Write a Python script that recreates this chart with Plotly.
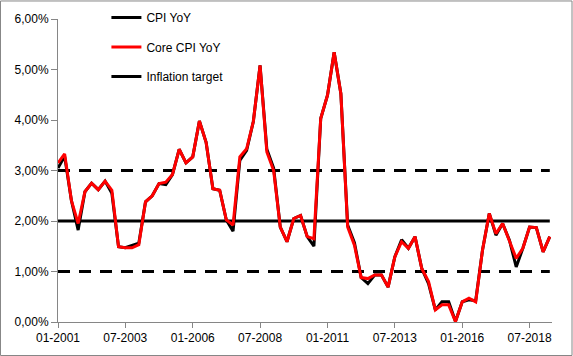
import pandas as pd
import plotly.graph_objects as go

# Quarterly observations, first quarter 2001 to second quarter 2019
start_date = "2001-01-01"
n_quarters = 74
dates = pd.date_range(start_date, periods=n_quarters, freq="QS")

cpi_yoy = [3.05, 3.28, 2.41, 1.82, 2.58, 2.75, 2.62, 2.79, 2.55, 1.49,
           1.47, 1.52, 1.56, 2.38, 2.50, 2.74, 2.72, 2.92, 3.42, 3.15,
           3.27, 3.98, 3.56, 2.64, 2.61, 2.02, 1.80, 3.20, 3.40, 3.97,
           5.08, 3.42, 3.05, 1.88, 1.59, 2.05, 2.11, 1.69, 1.50, 4.03,
           4.49, 5.34, 4.52, 1.92, 1.57, 0.88, 0.76, 0.93, 0.93, 0.69,
           1.29, 1.63, 1.46, 1.69, 1.06, 0.76, 0.24, 0.40, 0.40, 0.01,
           0.40, 0.44, 0.42, 1.42, 2.15, 1.72, 1.95, 1.62, 1.09, 1.46,
           1.88, 1.87, 1.39, 1.69]

core_cpi_yoy = [3.15, 3.33, 2.41, 1.95, 2.58, 2.75, 2.62, 2.79, 2.61, 1.49,
                1.47, 1.47, 1.53, 2.38, 2.50, 2.74, 2.77, 2.92, 3.42, 3.15,
                3.27, 3.98, 3.56, 2.64, 2.61, 2.02, 1.92, 3.27, 3.43, 3.97,
                5.08, 3.37, 3.00, 1.88, 1.59, 2.05, 2.11, 1.69, 1.65, 4.03,
                4.49, 5.34, 4.52, 1.88, 1.52, 0.88, 0.86, 0.93, 0.93, 0.69,
                1.29, 1.59, 1.46, 1.69, 1.06, 0.80, 0.24, 0.34, 0.34, 0.01,
                0.40, 0.47, 0.40, 1.42, 2.15, 1.75, 1.95, 1.62, 1.26, 1.46,
                1.88, 1.87, 1.39, 1.69]

inflation_target = 2.0
tolerance_lower = 1.0
tolerance_upper = 3.0

series_names = ["CPI YoY", "Core CPI YoY", "Inflation target"]
y_ticks = [0, 1, 2, 3, 4, 5, 6]
y_tick_labels = [f"{v:.2f}%".replace(".", ",") for v in y_ticks]

AXIS_GREY = "#868686"
FONT = dict(family="Liberation Sans, Arial, sans-serif", size=12, color="#000000")

fig = go.Figure()
span = [dates[0], dates[-1]]

# tolerance band lines (no legend)
for lvl in (tolerance_upper, tolerance_lower):
    fig.add_trace(go.Scatter(x=span, y=[lvl, lvl], mode="lines",
                             line=dict(color="black", width=3, dash="12px,9px"),
                             showlegend=False, hoverinfo="skip"))

fig.add_trace(go.Scatter(x=span, y=[inflation_target, inflation_target],
                         mode="lines", name=series_names[2],
                         line=dict(color="black", width=3),
                         legendgroup="c", legendrank=3))
fig.add_trace(go.Scatter(x=dates, y=cpi_yoy, mode="lines", name=series_names[0],
                         line=dict(color="black", width=3),
                         legendgroup="a", legendrank=1))
fig.add_trace(go.Scatter(x=dates, y=core_cpi_yoy, mode="lines", name=series_names[1],
                         line=dict(color="#FF0000", width=3),
                         legendgroup="b", legendrank=2))

fig.update_layout(
    width=573, height=356,
    margin=dict(l=58, r=21, t=19, b=34, autoexpand=False),
    paper_bgcolor="white", plot_bgcolor="white",
    font=FONT,
    separators=",.",
    legend=dict(x=0.098, y=1.0528, xanchor="left", yanchor="top",
                bgcolor="rgba(0,0,0,0)", borderwidth=0,
                tracegroupgap=10.5, font=FONT),
    shapes=[dict(type="rect", xref="paper", yref="paper",
                 x0=-0.1164, x1=1.0405, y0=-0.1106, y1=1.0595,
                 line=dict(color=AXIS_GREY, width=1), layer="below")],
)

fig.update_xaxes(
    type="date",
    range=["2001-01-01", "2019-05-01"],
    tick0="2001-01-01", dtick="M30", tickformat="%m-%Y",
    showgrid=False, zeroline=False,
    showline=True, linecolor=AXIS_GREY, linewidth=1,
    ticks="outside", ticklen=5, tickcolor=AXIS_GREY, tickwidth=1,
    tickfont=FONT,
)
fig.update_yaxes(
    range=[0, 6], tickvals=y_ticks, ticktext=y_tick_labels,
    showgrid=False, zeroline=False,
    showline=True, linecolor=AXIS_GREY, linewidth=1,
    ticks="outside", ticklen=6, tickcolor=AXIS_GREY, tickwidth=1,
    tickfont=FONT,
)

fig.write_html("out.html",
               config={"displayModeBar": False},
               post_script="document.body.style.margin='0';document.body.style.overflow='hidden';")
